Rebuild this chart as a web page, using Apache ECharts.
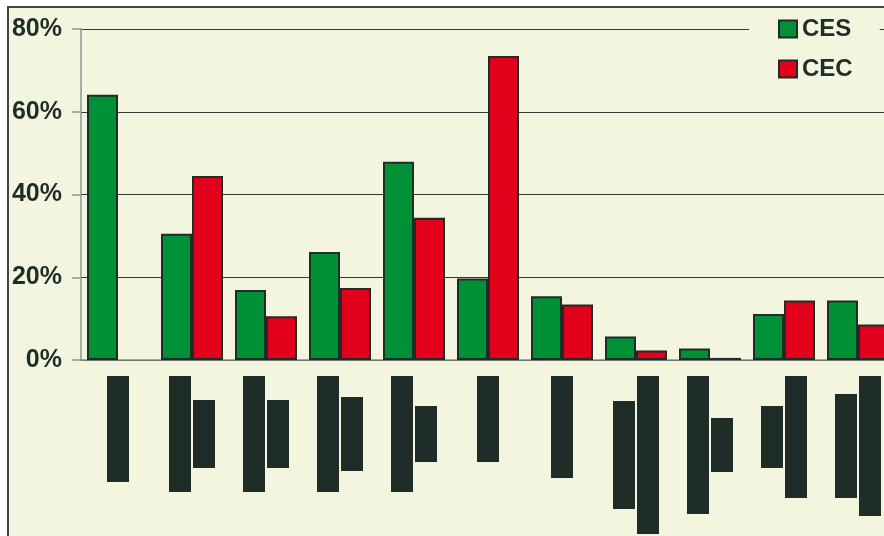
<!DOCTYPE html>
<html>
<head>
<meta charset="utf-8">
<script src="https://cdn.jsdelivr.net/npm/echarts@6/dist/echarts.min.js"></script>
<style>
  html, body { margin: 0; padding: 0; background: #ffffff; overflow: hidden; width: 884px; height: 536px; }
  #frame { position: absolute; left: 7px; top: 6px; width: 920px; height: 560px;
           background: #f4f5df; border-left: 2px solid #3b4944; border-top: 2px solid #3b4944; }
  #chart { position: absolute; left: 0; top: 0; width: 910px; height: 536px; }
</style>
</head>
<body>
<div id="frame"></div>
<div id="chart"></div>
<script>
// Category names are redacted in the source picture (drawn as dark blocks).
const categories = ['c1', 'c2', 'c3', 'c4', 'c5', 'c6', 'c7', 'c8', 'c9', 'c10', 'c11'];
const cesValues = [64.1, 30.5, 16.9, 26.1, 47.9, 19.7, 15.4, 5.7, 2.8, 11.1, 14.4];
const cecValues = [null, 44.5, 10.6, 17.4, 34.4, 73.5, 13.4, 2.3, 0.5, 14.4, 8.6];
const seriesNames = ['CES', 'CEC'];
// lengths of the redacted (blacked-out) label lines, per category
const redactedLabelLines = [[106], [116, 68], [116, 68], [116, 74], [116, 56], [86], [102], [108, 158], [138, 54], [62, 122], [104, 140]];

const DARK = '#1e2d28';
const rich = { s: { width: 2, height: 1, fontSize: 1 } };
redactedLabelLines.forEach(function (lines) {
  lines.forEach(function (h) {
    rich['h' + h] = { width: 22, height: h, backgroundColor: DARK, color: DARK, fontSize: 1 };
  });
});

const chart = echarts.init(document.getElementById('chart'));
chart.setOption({
  backgroundColor: 'transparent',
  animation: false,
  grid: { left: 81, top: 29, width: 814, height: 331, containLabel: false },
  legend: {
    data: seriesNames,
    orient: 'vertical',
    left: 749,
    top: 9,
    backgroundColor: '#f4f5df',
    padding: [8, 27, 8, 29],
    icon: 'rect',
    itemWidth: 18,
    itemHeight: 17,
    itemGap: 16,
    itemTextGap: 5,
    textStyle: { fontFamily: 'Liberation Sans, Arial, sans-serif', fontWeight: 'bold', fontSize: 24, color: DARK }
  },
  xAxis: {
    type: 'category',
    data: categories,
    boundaryGap: true,
    axisLine: { lineStyle: { color: '#858f84', width: 1.5 } },
    axisTick: { length: 6, lineStyle: { color: '#858f84', width: 2 } },
    axisLabel: {
      interval: 0,
      margin: 16,
      formatter: function (v, i) {
        return redactedLabelLines[i].map(function (h) { return '{h' + h + '| }'; }).join('{s| }');
      },
      rich: rich
    }
  },
  yAxis: {
    type: 'value',
    min: 0,
    max: 80,
    interval: 20,
    axisLine: { show: true, lineStyle: { color: '#8d978c', width: 1.5 } },
    axisTick: { show: true, length: 9, lineStyle: { color: '#8d978c', width: 1.5 } },
    splitLine: { lineStyle: { color: '#2e3b34', width: 1 } },
    axisLabel: {
      formatter: '{value}%',
      margin: 19,
      fontFamily: 'Liberation Sans, Arial, sans-serif',
      fontWeight: 'bold',
      fontSize: 25,
      color: DARK
    }
  },
  series: [
    {
      name: seriesNames[0], type: 'bar', data: cesValues, barWidth: 31, barGap: '0%',
      itemStyle: { color: '#009137', borderColor: DARK, borderWidth: 2 }
    },
    {
      name: seriesNames[1], type: 'bar', data: cecValues, barWidth: 31, barGap: '0%',
      itemStyle: { color: '#e2001a', borderColor: DARK, borderWidth: 2 }
    }
  ]
});
</script>
</body>
</html>
